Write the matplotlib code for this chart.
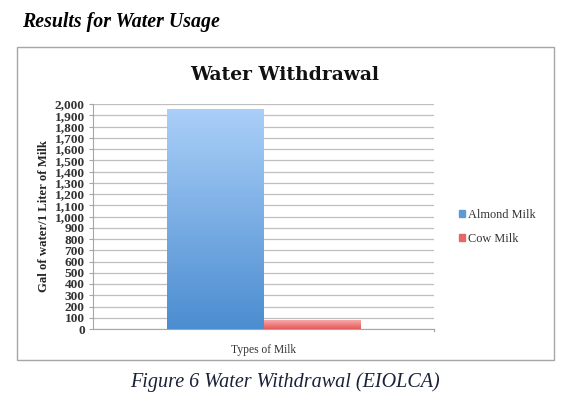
import matplotlib
matplotlib.use("Agg")
import matplotlib.pyplot as plt
import numpy as np
from matplotlib.patches import Rectangle
from matplotlib.colors import LinearSegmentedColormap

categories = ["Types of Milk"]
series_names = ["Almond Milk", "Cow Milk"]
values = [1950, 80]
yticks = list(range(0, 2001, 100))

W, H = 576, 407
fig = plt.figure(figsize=(W / 100, H / 100), dpi=100)
fig.patch.set_facecolor("white")

# Outer chart box
fig.add_artist(Rectangle((17 / W, 1 - 360 / H), (554 - 17) / W, (360 - 47) / H,
                         transform=fig.transFigure, fill=False, edgecolor="#A6A6A6", lw=1))

ax = fig.add_axes([93 / W, 1 - 329 / H, (434 - 93) / W, (329 - 104) / H])

serif = ["Liberation Serif", "DejaVu Serif"]
colors_top = ["#AACFF8", "#F6A9A9"]
colors_bot = ["#4B8DD0", "#E55A5A"]
solid = ["#5B9BD5", "#E86666"]

width = 0.284
offsets = [-0.142, 0.142]
for i, (name, v) in enumerate(zip(series_names, values)):
    b = ax.bar(offsets[i], v, width=width, color="none", edgecolor="none", label=name, zorder=3)
    r = b[0]
    x0, y0 = r.get_x(), r.get_y()
    w, h = r.get_width(), r.get_height()
    cmap = LinearSegmentedColormap.from_list("g%d" % i, [colors_bot[i], colors_top[i]])
    grad = np.linspace(0, 1, 256).reshape(-1, 1)
    ax.imshow(grad, extent=(x0, x0 + w, y0, y0 + h), origin="lower", cmap=cmap,
              aspect="auto", zorder=3)

ax.set_xlim(-0.5, 0.5)
ax.set_ylim(0, 2000)
ax.set_aspect("auto")
ax.set_yticks(yticks)
ax.set_yticklabels([f"{t:,}" for t in yticks], fontfamily=serif, fontsize=9.6,
                   fontweight="bold", color="#333333")
ax.set_xticks([])
ax.grid(axis="y", color="#BFBFBF", lw=0.9, zorder=0)
ax.set_axisbelow(True)
for s in ["top", "right"]:
    ax.spines[s].set_visible(False)
ax.spines["left"].set_color("#A6A6A6")
ax.spines["bottom"].set_color("#A6A6A6")
ax.tick_params(axis="y", length=3, color="#A6A6A6", pad=3)
ax.plot([0.5, 0.5], [0, -20], color="#A6A6A6", lw=0.9, clip_on=False)

ax.set_ylabel("Gal of water/1 Liter of Milk", fontfamily=serif, fontsize=9.2,
              fontweight="bold", color="#262626", labelpad=3)
ax.text(0, -0.065, categories[0], transform=ax.get_xaxis_transform(), ha="center",
        va="top", fontfamily=serif, fontsize=8.3, color="#333333")

# Title
fig.text(285 / W, 1 - 75 / H, "Water Withdrawal", ha="center", va="center",
         fontfamily=["DejaVu Serif"], fontsize=13.5, fontweight="bold", color="#111111")

# Legend
handles = [Rectangle((0, 0), 1, 1, color=solid[i]) for i in range(2)]
leg = fig.legend(handles, series_names, loc="upper left",
                 bbox_to_anchor=(448 / W, 1 - 198 / H), frameon=False,
                 handlelength=0.5, handleheight=0.5, handletextpad=0.25,
                 labelspacing=1.0, prop={"family": serif, "size": 8.8})
for t in leg.get_texts():
    t.set_color("#333333")

# Header and caption
fig.text(22 / W, 1 - 22 / H, "Results for Water Usage", ha="left", va="center",
         fontfamily="Liberation Serif", fontsize=14.3, fontweight="bold",
         fontstyle="italic", color="black")
fig.text(285 / W, 1 - 382 / H, "Figure 6 Water Withdrawal (EIOLCA)", ha="center",
         va="center", fontfamily="Liberation Serif", fontsize=14.5, fontstyle="italic",
         color="#1A2238")

fig.savefig("out.png", dpi=100)
